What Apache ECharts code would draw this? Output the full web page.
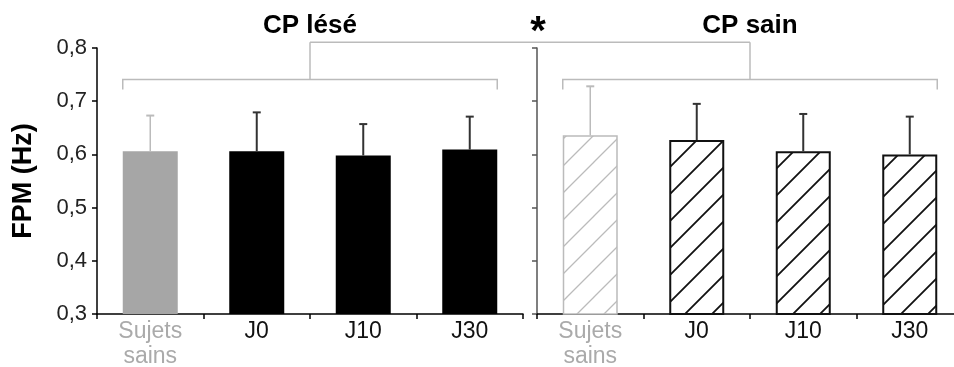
<!DOCTYPE html>
<html>
<head>
<meta charset="utf-8">
<script src="https://cdn.jsdelivr.net/npm/echarts@6/dist/echarts.min.js"></script>
<style>html,body{margin:0;padding:0;background:#fff}#c{width:954px;height:367px}</style>
</head>
<body>
<div id="c"></div>
<script>
// ---- data ----
const categories = ['Sujets\nsains', 'J0', 'J10', 'J30'];
const leseMeans = [0.606, 0.606, 0.598, 0.609];
const leseSD    = [0.067, 0.073, 0.059, 0.062];
const sainMeans = [0.636, 0.627, 0.606, 0.600];
const sainSD    = [0.092, 0.068, 0.070, 0.071];
const yMin = 0.3, yMax = 0.8, yStep = 0.1;
const panelTitles = ['CP lésé', 'CP sain'];
const yName = 'FPM (Hz)';
const signif = '*';

const FONT = "'Liberation Sans', Arial, sans-serif";
const BAR_W = 55;
const GRAY = '#bbbbbb';

function hatch(color, lw) {
  const s = 27;
  const c = document.createElement('canvas');
  c.width = s; c.height = s;
  const g = c.getContext('2d');
  g.fillStyle = '#fff'; g.fillRect(0, 0, s, s);
  g.strokeStyle = color; g.lineWidth = lw;
  g.beginPath();
  g.moveTo(-2, s + 2); g.lineTo(s + 2, -2);
  g.moveTo(-2, 2); g.lineTo(2, -2);
  g.moveTo(s - 2, s + 2); g.lineTo(s + 2, s - 2);
  g.stroke();
  return { image: c, repeat: 'repeat' };
}

const chart = echarts.init(document.getElementById('c'), null, { renderer: 'canvas' });

const fmt = v => v.toFixed(1).replace('.', ',');

function yAxisCfg(idx, withLabels, lineColor) {
  return {
    type: 'value', gridIndex: idx, min: yMin, max: yMax, interval: yStep,
    name: withLabels ? yName : '', nameLocation: 'middle', nameGap: 60,
    nameTextStyle: { fontFamily: FONT, fontSize: 27, fontWeight: 'bold', color: '#000' },
    axisLine: { show: true, lineStyle: { color: lineColor, width: 1.5 } },
    axisTick: { show: true, length: 5, lineStyle: { color: lineColor, width: 1.5 } },
    axisLabel: { show: withLabels, formatter: fmt, fontFamily: FONT, fontSize: 22, color: '#222', margin: 10 },
    splitLine: { show: false }
  };
}
function xAxisCfg(idx) {
  return {
    type: 'category', gridIndex: idx, data: categories, boundaryGap: true,
    axisLine: { show: true, onZero: false, lineStyle: { color: '#000', width: 1.5 } },
    axisTick: { show: true, length: 5, alignWithLabel: false, lineStyle: { color: '#000', width: 1.5 } },
    axisLabel: {
      fontFamily: FONT, fontSize: 23, lineHeight: 25, margin: 5, interval: 0,
      color: (v, i) => (i === 0 ? '#aaaaaa' : '#111')
    }
  };
}

function errSeries(idx, means, sds, colors) {
  return {
    type: 'custom', xAxisIndex: idx, yAxisIndex: idx, z: 3,
    data: means.map((m, i) => [i, m, m + sds[i]]),
    renderItem: function (params, api) {
      const i = api.value(0);
      const p0 = api.coord([i, api.value(1)]);
      const p1 = api.coord([i, api.value(2)]);
      const col = colors[i];
      const lw = i === 0 ? 1.5 : 2;
      return {
        type: 'group', children: [
          { type: 'line', shape: { x1: p0[0], y1: p0[1], x2: p1[0], y2: p1[1] }, style: { stroke: col, lineWidth: lw } },
          { type: 'line', shape: { x1: p1[0] - 4, y1: p1[1], x2: p1[0] + 4, y2: p1[1] }, style: { stroke: col, lineWidth: 2 } }
        ]
      };
    }
  };
}

const grayHatch = hatch(GRAY, 1.3);
const blackHatch = hatch('#111', 1.8);

const option = {
  animation: false,
  backgroundColor: '#fff',
  grid: [
    { left: 97, width: 426, top: 48, bottom: 53, containLabel: false, outerBoundsMode: 'none' },
    { left: 537, width: 426, top: 48, bottom: 53, containLabel: false, outerBoundsMode: 'none' }
  ],
  xAxis: [xAxisCfg(0), xAxisCfg(1)],
  yAxis: [yAxisCfg(0, true, '#000'), yAxisCfg(1, false, '#555')],
  series: [
    {
      type: 'bar', xAxisIndex: 0, yAxisIndex: 0, barWidth: BAR_W, z: 2,
      data: leseMeans.map((v, i) => ({
        value: v,
        itemStyle: { color: i === 0 ? '#a6a6a6' : '#000' }
      }))
    },
    errSeries(0, leseMeans, leseSD, [GRAY, '#333', '#333', '#333']),
    {
      type: 'bar', xAxisIndex: 1, yAxisIndex: 1, barWidth: BAR_W, z: 2,
      data: sainMeans.map((v, i) => ({
        value: v,
        itemStyle: i === 0
          ? { color: grayHatch, borderColor: GRAY, borderWidth: 1.5 }
          : { color: blackHatch, borderColor: '#111', borderWidth: 2 }
      }))
    },
    errSeries(1, sainMeans, sainSD, [GRAY, '#333', '#333', '#333'])
  ]
};
chart.setOption(option);

// ---- bracket annotations, positioned through the axes ----
const bracketVal = 0.741, dropVal = 0.722, topVal = 0.811;
function px(g, cat, val) { return chart.convertToPixel({ xAxisIndex: g, yAxisIndex: g }, [cat, val]); }
const elems = [];
const mids = [];
[0, 1].forEach(g => {
  const xl = px(g, 0, bracketVal)[0] - BAR_W / 2;
  const xr = px(g, categories.length - 1, bracketVal)[0] + BAR_W / 2;
  const yb = px(g, 0, bracketVal)[1];
  const yd = px(g, 0, dropVal)[1];
  const yt = px(g, 0, topVal)[1];
  const mid = (xl + xr) / 2;
  mids.push([mid, yb, yt]);
  elems.push({ type: 'polyline', shape: { points: [[xl, yd], [xl, yb], [xr, yb], [xr, yd]] }, style: { stroke: GRAY, lineWidth: 1.5, fill: null }, z: 10 });
  elems.push({ type: 'line', shape: { x1: mid, y1: yb, x2: mid, y2: yt }, style: { stroke: GRAY, lineWidth: 1.5 }, z: 10 });
  elems.push({ type: 'text', x: mid, y: 26, style: { text: panelTitles[g], font: "bold 26px " + FONT, fill: '#000', align: 'center', verticalAlign: 'middle' }, z: 10 });
});
elems.push({ type: 'line', shape: { x1: mids[0][0], y1: mids[0][2], x2: mids[1][0], y2: mids[1][2] }, style: { stroke: GRAY, lineWidth: 1.5 }, z: 10 });
const starX = (mids[0][0] + mids[1][0]) / 2 + 8;
elems.push({ type: 'text', x: starX, y: 33, style: { text: signif, font: "bold 40px " + FONT, fill: '#000', align: 'center', verticalAlign: 'middle' }, z: 10 });
chart.setOption({ graphic: { elements: elems } });
</script>
</body>
</html>
